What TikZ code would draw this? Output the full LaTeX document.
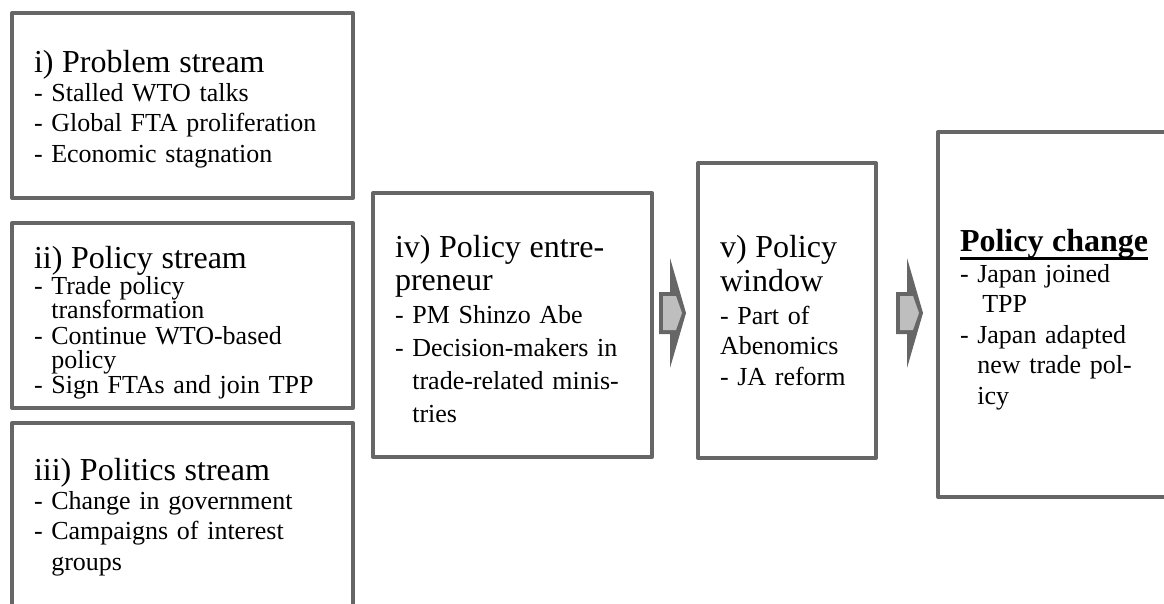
\documentclass[tikz,border=0pt]{standalone}
\usepackage{fontspec}
\setmainfont{Liberation Serif}
\definecolor{boxgray}{HTML}{666666}
\definecolor{arrowlight}{HTML}{BEBEBE}
\newcommand{\sthead}[1]{{\fontsize{32}{36}\selectfont #1}}
\newcommand{\headul}[1]{\setbox0\hbox{#1}\rlap{\rule[-8pt]{\wd0}{3pt}}\box0}
\newcommand{\indentcont}{\hphantom{- }}
\newcommand{\headstrut}[1]{\rule{0pt}{#1}}

\begin{document}
\begin{tikzpicture}[x=1pt,y=-1pt,
	streambox/.style={draw=boxgray, line width=4pt, line join=round, fill=white, align=left,
		inner xsep=22pt, inner ysep=0pt, font=\fontsize{26}{30.5}\selectfont}]
		\newcommand{\blockarrow}[2]{ % #1: x of the shaft start, #2: y of the tip
			\fill[boxgray] (#1,#2-21) -- (#1+11,#2-21) -- (#1+11,#2-55) -- (#1+27,#2)
				-- (#1+11,#2+55) -- (#1+11,#2+21) -- (#1,#2+21) -- cycle;
			\fill[arrowlight] (#1+4,#2-17) -- (#1+17,#2-17) -- (#1+23,#2)
				-- (#1+17,#2+17) -- (#1+4,#2+17) -- cycle;
		}
		
		\useasboundingbox (0,0) rectangle (1164,604);
		\clip (0,0) rectangle (1164,604);
		
		%the three streams
		\node[streambox, minimum width=341pt, minimum height=185pt, text width=297pt] (problem) at (182.5,105.5) {
			\sthead{\headstrut{30pt}i) Problem stream}\\[-2pt]
			- Stalled WTO talks\\
			- Global FTA proliferation\\
			- Economic stagnation};
		\node[streambox, minimum width=341pt, minimum height=185pt, text width=297pt] (policy) at (182.5,315.5) {
			\sthead{\headstrut{36pt}ii) Policy stream}\\[-4.5pt]
			- Trade policy\\[-6.5pt]
			\indentcont transformation\\[-4.5pt]
			- Continue WTO-based\\[-6.5pt]
			\indentcont policy\\[-5.5pt]
			- Sign FTAs and join TPP};
		\node[streambox, minimum width=341pt, minimum height=188pt, text width=297pt] (politics) at (182.5,517) {
			\sthead{iii) Politics stream}\\[-2pt]
			- Change in government\\
			- Campaigns of interest\\
			\indentcont groups};
		
		\node[streambox, font=\fontsize{26}{33}\selectfont, minimum width=279pt, minimum height=264pt, text width=235pt] (entre) at (512.5,325) {
			\sthead{\headstrut{30pt}iv) Policy entre-}\\
			\sthead{preneur}\\
			- PM Shinzo Abe\\
			- Decision-makers in\\
			\indentcont trade-related minis-\\
			\indentcont tries};
		\node[streambox, minimum width=178pt, minimum height=295pt, text width=134pt] (window) at (787,310.5) {
			\sthead{v) Policy}\\[4pt]
			\sthead{window}\\[2pt]
			- Part of\\
			Abenomics\\
			- JA reform};
		\node[streambox, minimum width=262pt, minimum height=365pt, text width=218pt] (change) at (1069,314.5) {
			\headul{\bfseries\fontsize{32}{36}\selectfont\headstrut{33pt}Policy change}\\
			- Japan joined\\
			\indentcont\hspace{5pt}TPP\\
			- Japan adapted\\
			\indentcont new trade pol-\\
			\indentcont icy};
		
		%block arrows
		\blockarrow{659}{313}
		\blockarrow{896}{313}
		
\end{tikzpicture}
\end{document}
